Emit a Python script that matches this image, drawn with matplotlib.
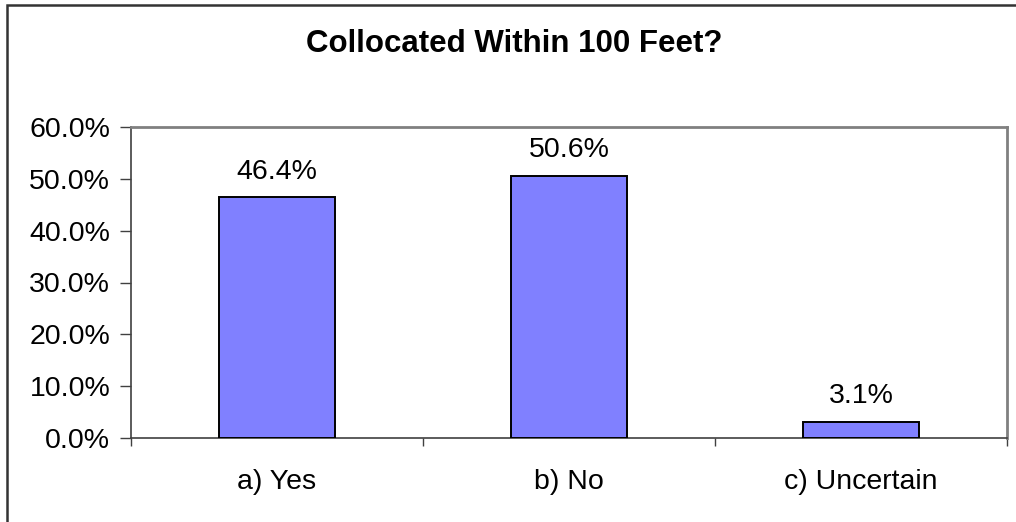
import numpy as np
import matplotlib.pyplot as plt
from matplotlib.patches import Rectangle
from matplotlib.ticker import FuncFormatter, FixedLocator

categories = ["a) Yes", "b) No", "c) Uncertain"]
values = [46.4, 50.6, 3.1]
y_ticks = [0, 10, 20, 30, 40, 50, 60]

plt.rcParams['font.family'] = ['Liberation Sans', 'DejaVu Sans']


def main():
    fig = plt.figure(figsize=(10.16, 5.22), dpi=100)
    ax = fig.add_axes([131 / 1016, 84 / 522, 876 / 1016, 311 / 522])

    x = np.arange(len(categories))
    ax.bar(x, values, width=0.4, color="#8080FF", edgecolor="black", linewidth=1.4, zorder=3)

    # value labels above bars
    for xi, v in zip(x, values):
        ax.annotate("{:.1f}%".format(v), (xi, v), xytext=(0, 9), textcoords="offset points",
                    ha="center", va="bottom", fontsize=20.5)

    ax.set_xlim(-0.5, len(categories) - 0.5)
    ax.set_ylim(0, 60)

    ax.set_yticks(y_ticks)
    ax.yaxis.set_major_formatter(FuncFormatter(lambda v, p: "{:.1f}%".format(v)))
    ax.tick_params(axis="y", direction="out", length=8, width=1, color="#404040",
                   labelsize=20.5, pad=7)

    # boundary ticks on x, labels at centres
    ax.xaxis.set_major_locator(FixedLocator(np.arange(len(categories) + 1) - 0.5))
    ax.xaxis.set_major_formatter(FuncFormatter(lambda v, p: ""))
    ax.xaxis.set_minor_locator(FixedLocator(x))
    ax.set_xticklabels(categories, minor=True)
    ax.tick_params(axis="x", which="major", direction="out", length=6, width=1, color="#404040")
    ax.tick_params(axis="x", which="minor", length=0, labelsize=20.5, pad=22)

    for side in ["left", "bottom"]:
        ax.spines[side].set_color("#404040")
        ax.spines[side].set_linewidth(1.2)
    for side in ["top", "right"]:
        ax.spines[side].set_color("#808080")
        ax.spines[side].set_linewidth(2)

    fig.text(514 / 1016, 1 - 44 / 522, "Collocated Within 100 Feet?", ha="center", va="center",
             fontsize=22.5, fontweight="bold")

    # outer chart border (runs off right and bottom edges)
    fig.patches.append(Rectangle((6.5 / 1016, -0.1), 1.2, 1.1 - 4.5 / 522, transform=fig.transFigure,
                                 fill=False, edgecolor="#333333", linewidth=1.8, clip_on=False))

    fig.savefig("out.png", dpi=100)


if __name__ == "__main__":
    main()
